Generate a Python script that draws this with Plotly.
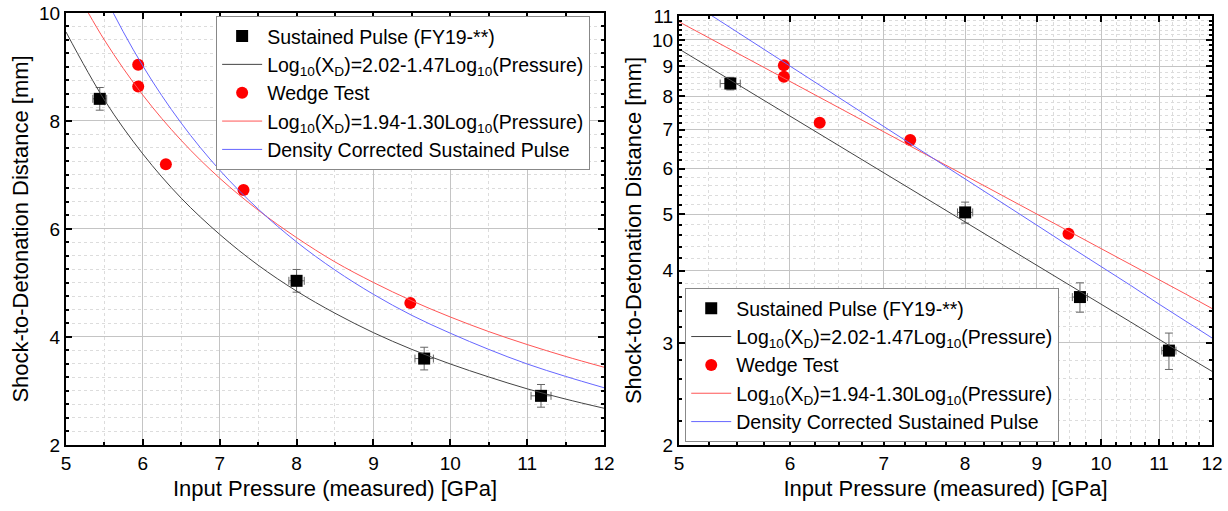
import plotly.graph_objects as go

# ---------------- data ----------------
sp_p = [5.44, 8.00, 9.66, 11.18]          # Sustained Pulse pressure [GPa]
sp_x = [8.41, 5.04, 3.60, 2.91]           # run distance [mm]
sp_perr = [0.09, 0.10, 0.12, 0.13]
sp_xerr = [0.21, 0.21, 0.21, 0.21]

wt_p = [5.94, 5.94, 6.30, 7.31, 9.48]     # Wedge Test
wt_x = [9.04, 8.64, 7.20, 6.72, 4.63]

curve_p = [5.0, 5.5, 6.0, 6.5, 7.0, 7.5, 8.0, 8.5, 9.0, 9.5, 10.0, 10.5, 11.0, 11.5, 12.0]
fit_black = [9.65, 8.39, 7.39, 6.57, 5.90, 5.33, 4.85, 4.44, 4.08, 3.77, 3.50, 3.26, 3.04, 2.85, 2.68]
fit_red = [10.75, 9.50, 8.48, 7.64, 6.94, 6.35, 5.84, 5.39, 5.01, 4.67, 4.37, 4.10, 3.86, 3.64, 3.44]
fit_blue = [11.98, 10.33, 9.02, 7.96, 7.09, 6.37, 5.76, 5.24, 4.79, 4.40, 4.07, 3.77, 3.50, 3.27, 3.06]

names = [
    "Sustained Pulse (FY19-**)",
    "Log<sub>10</sub>(X<sub>D</sub>)=2.02-1.47Log<sub>10</sub>(Pressure)",
    "Wedge Test",
    "Log<sub>10</sub>(X<sub>D</sub>)=1.94-1.30Log<sub>10</sub>(Pressure)",
    "Density Corrected Sustained Pulse",
]

x_ticks = [5, 6, 7, 8, 9, 10, 11, 12]
yl_ticks = [2, 4, 6, 8, 10]
yr_ticks = [2, 3, 4, 5, 6, 7, 8, 9, 10, 11]
xr_minor = [5.25, 5.5, 5.75, 6.25, 6.5, 6.75, 7.25, 7.5, 7.75, 8.25, 8.5, 8.75,
            9.25, 9.5, 9.75, 10.25, 10.5, 10.75, 11.25, 11.5, 11.75]
yr_minor = [2.2, 2.4, 2.6, 2.8, 3.2, 3.4, 3.6, 3.8, 4.2, 4.4, 4.6, 4.8, 5.2, 5.4, 5.6, 5.8,
            6.2, 6.4, 6.6, 6.8, 7.2, 7.4, 7.6, 7.8, 8.2, 8.4, 8.6, 8.8, 9.2, 9.4, 9.6, 9.8,
            10.2, 10.4, 10.6, 10.8]

FONT = "Liberation Sans, Arial, sans-serif"
fig = go.Figure()

for (xa, ya, leg, shape) in [("x", "y", "legend", "spline"), ("x2", "y2", "legend2", "linear")]:
    fig.add_trace(go.Scatter(
        x=sp_p, y=sp_x, mode="markers", name=names[0], xaxis=xa, yaxis=ya, legend=leg,
        marker=dict(symbol="square", size=12, color="black"),
        error_x=dict(type="data", array=sp_perr, color="#666666", thickness=1, width=4),
        error_y=dict(type="data", array=sp_xerr, color="#666666", thickness=1, width=4),
    ))
    fig.add_trace(go.Scatter(
        x=curve_p, y=fit_black, mode="lines", name=names[1], xaxis=xa, yaxis=ya, legend=leg,
        line=dict(color="#444444", width=1, shape=shape),
    ))
    fig.add_trace(go.Scatter(
        x=wt_p, y=wt_x, mode="markers", name=names[2], xaxis=xa, yaxis=ya, legend=leg,
        marker=dict(symbol="circle", size=12, color="#ff0000"),
    ))
    fig.add_trace(go.Scatter(
        x=curve_p, y=fit_red, mode="lines", name=names[3], xaxis=xa, yaxis=ya, legend=leg,
        line=dict(color="#ff5555", width=1, shape=shape),
    ))
    fig.add_trace(go.Scatter(
        x=curve_p, y=fit_blue, mode="lines", name=names[4], xaxis=xa, yaxis=ya, legend=leg,
        line=dict(color="#6666ff", width=1, shape=shape),
    ))

axis_common = dict(
    showline=True, linecolor="black", linewidth=2, mirror="ticks",
    ticks="inside", ticklen=6, tickwidth=1.5, tickcolor="black",
    showgrid=True, gridcolor="#c4c4c4", gridwidth=1, zeroline=False,
    tickfont=dict(size=19, color="black", family=FONT),
    automargin=False,
)
minor_common = dict(ticks="inside", ticklen=3, tickcolor="black", showgrid=True,
                    gridcolor="#dcdcdc", griddash="dot", gridwidth=1)

TITLE_FONT = dict(size=22, color="black", family=FONT)

fig.update_layout(
    width=1228, height=511,
    margin=dict(l=0, r=0, t=0, b=0),
    paper_bgcolor="white", plot_bgcolor="white",
    font=dict(family=FONT, size=19.5, color="black"),
    showlegend=True,
    xaxis=dict(**axis_common, domain=[0.0537, 0.4919], range=[5, 12],
               tickmode="array", tickvals=x_ticks,
               minor=dict(**minor_common, dtick=0.5),
               title=dict(text="Input Pressure (measured) [GPa]", font=TITLE_FONT, standoff=8),
               anchor="y"),
    yaxis=dict(**axis_common, domain=[0.1292, 0.9746], range=[2, 10],
               tickmode="array", tickvals=yl_ticks,
               minor=dict(**minor_common, dtick=0.25),
               title=dict(text="Shock-to-Detonation Distance [mm]", font=TITLE_FONT, standoff=4),
               anchor="x"),
    xaxis2=dict(**axis_common, domain=[0.5529, 0.987], type="log",
                range=[0.69897, 1.07918],
                tickmode="array", tickvals=x_ticks, ticktext=[str(v) for v in x_ticks],
                minor=dict(**minor_common, tickmode="array", tickvals=xr_minor),
                title=dict(text="Input Pressure (measured) [GPa]", font=TITLE_FONT, standoff=8),
                anchor="y2"),
    yaxis2=dict(**axis_common, domain=[0.1292, 0.9687], type="log",
                range=[0.30103, 1.04139],
                tickmode="array", tickvals=yr_ticks, ticktext=[str(v) for v in yr_ticks],
                minor=dict(**minor_common, tickmode="array", tickvals=yr_minor),
                title=dict(text="Shock-to-Detonation Distance [mm]", font=TITLE_FONT, standoff=4),
                anchor="x2"),
    legend=dict(x=0.176, y=0.969, xanchor="left", yanchor="top",
                bgcolor="white", bordercolor="#888888", borderwidth=1,
                font=dict(size=19.5), itemwidth=40, tracegroupgap=0),
    legend2=dict(x=0.558, y=0.135, xanchor="left", yanchor="bottom",
                 bgcolor="white", bordercolor="#888888", borderwidth=1,
                 font=dict(size=19.5), itemwidth=40, tracegroupgap=0),
)

fig.write_html("out.html", config={"displayModeBar": False},
               post_script="document.body.style.margin='0px';")
